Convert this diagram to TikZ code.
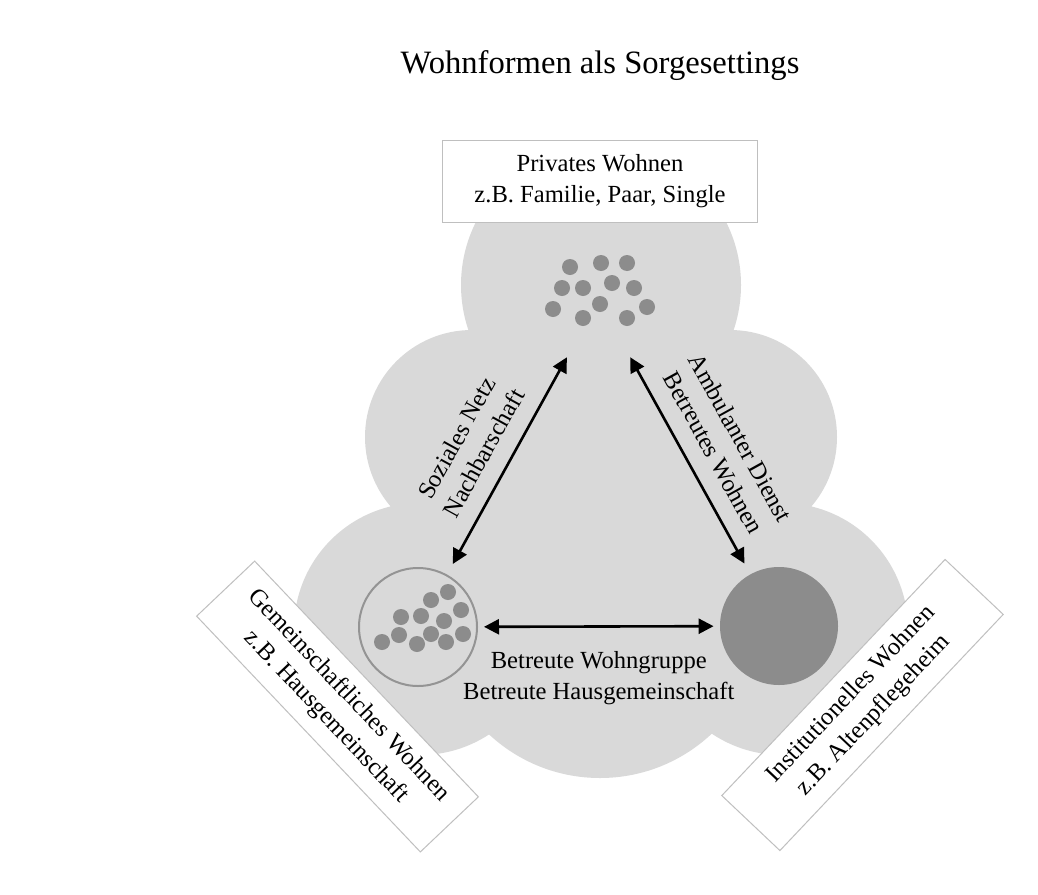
\documentclass[tikz,border=0pt]{standalone}
\usepackage{fontspec}
\setmainfont{Liberation Serif}
\usetikzlibrary{arrows.meta}
\definecolor{cloudgray}{HTML}{D9D9D9}
\definecolor{dotgray}{HTML}{8C8C8C}
\tikzset{every node/.style={font=\fontsize{12.3}{15.5}\selectfont}}
\tikzset{labelbox/.style={draw=black!25,line width=0.5pt,fill=white,align=center,inner sep=0pt,minimum width=162.5pt,minimum height=40pt}}
\tikzset{wohnkreis/.style={circle,inner sep=0pt,minimum size=59pt}}
\tikzset{link/.style={<->,>={Triangle[length=7.5pt,width=7.5pt]},line width=1.3pt}}

\begin{document}
\begin{tikzpicture}[x=0.5pt,y=-0.5pt]
  \path[fill=white,use as bounding box] (0,0) rectangle (1038,894);
  % Wolke
  \fill[cloudgray] (601,285) circle (70pt) (472,437) circle (53.5pt)
    (730,437) circle (53.5pt) (420,629) circle (63pt) (782,629) circle (63pt)
    (600,615) circle (81.5pt) (601,470) circle (70pt);

  \node[anchor=base,font=\fontsize{16.3}{20}\selectfont] (titel) at (600,73) {Wohnformen als Sorgesettings};
  \node[labelbox,minimum width=157.5pt,minimum height=41pt] (privbox) at (600,181) {Privates Wohnen\\z.B. Familie, Paar, Single};
  \node[labelbox,rotate=-46.5] (gembox) at (337.5,706.5) {Gemeinschaftliches Wohnen\\z.B. Hausgemeinschaft};
  \node[labelbox,rotate=46.6] (instbox) at (862.5,705) {Institutionelles Wohnen\\z.B. Altenpflegeheim};

  \node[circle,inner sep=0pt,minimum size=65pt] (privat) at (598.5,300) {};
  \node[wohnkreis,draw=black!42,line width=1pt,fill=cloudgray] (gemein) at (418,627) {};
  \node[wohnkreis,fill=dotgray] (inst) at (779,626) {};

  % Punkte
  \foreach \x/\y in {570/267,601/263,627/263,562/288,583/288,612/283,634/288,
      553/309,600/304,647/307,583/318,627/318,
      448/592,431/600,461/610,401/617,421/616,444/621,399/635,431/634,463/634,
      382/642,417/644,446/642}
    \fill[dotgray] (\x,\y) circle (4pt);

  \draw[link,shorten <=6pt] (gemein) -- (privat)
    node[midway,sloped,above=5pt,align=center] {Soziales Netz\\Nachbarschaft};
  \draw[link,shorten >=6pt] (privat) -- (inst)
    node[midway,sloped,above=5pt,align=center] {Ambulanter Dienst\\Betreutes Wohnen};
  \draw[link,shorten <=3pt,shorten >=3pt] (gemein) -- (inst)
    node[midway,below=8.5pt,align=center] {Betreute Wohngruppe\\Betreute Hausgemeinschaft};
\end{tikzpicture}
\end{document}
